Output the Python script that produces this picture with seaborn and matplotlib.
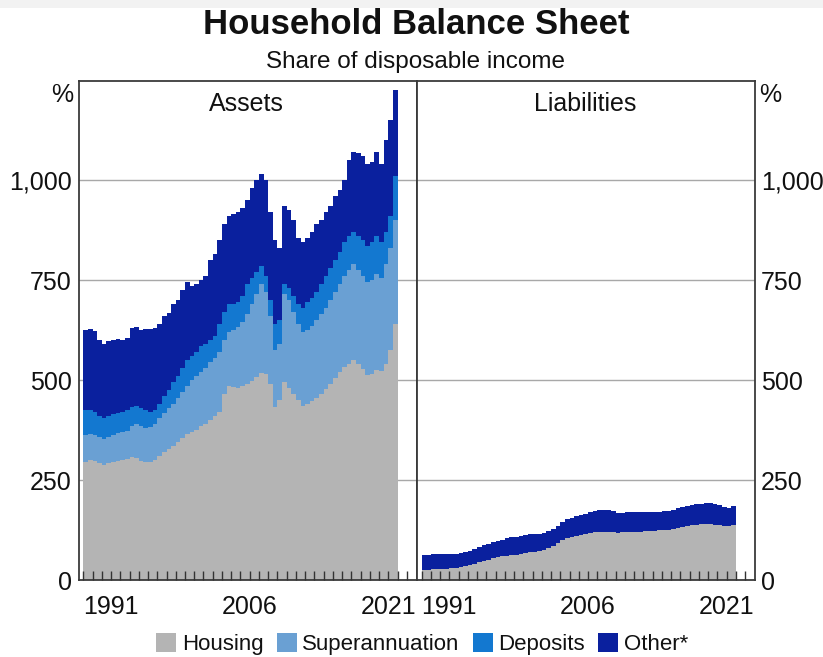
import numpy as np
import pandas as pd
import matplotlib
matplotlib.use("Agg")
import matplotlib.pyplot as plt
from matplotlib.patches import Patch, Rectangle
from matplotlib.ticker import FuncFormatter
import seaborn as sns

# Half-yearly observation periods (start of each half year)
periods = np.arange(1988.0, 2022.0, 0.5)

# Assets, cumulative levels (% of disposable income)
assets_housing = [
    295, 300, 298, 292, 288, 292, 295, 298, 300, 302,
    308, 305, 298, 295, 295, 300, 310, 320, 328, 335,
    345, 355, 365, 370, 375, 385, 390, 400, 410, 420,
    465, 485, 482, 480, 485, 490, 498, 508, 518, 515,
    490, 432, 450, 495, 480, 465, 450, 436, 440, 448,
    455, 465, 478, 490, 505, 520, 532, 540, 550, 540,
    528, 512, 515, 525, 522, 540, 575, 640,
]
assets_super_top = [
    362, 365, 362, 358, 352, 358, 362, 368, 370, 372,
    385, 390, 385, 380, 382, 390, 405, 418, 430, 440,
    455, 470, 485, 500, 510, 520, 530, 545, 555, 570,
    600, 620, 625, 632, 645, 665, 690, 715, 740, 720,
    660, 575, 590, 715, 700, 670, 640, 620, 625, 635,
    650, 665, 680, 700, 720, 740, 760, 775, 790, 775,
    760, 745, 750, 765, 755, 790, 830, 900,
]
assets_deposits_top = [
    425, 425, 420, 410, 405, 410, 415, 418, 420, 425,
    432, 435, 430, 425, 420, 425, 440, 460, 475, 495,
    510, 530, 550, 560, 570, 585, 590, 600, 610, 640,
    670, 690, 690, 695, 710, 740, 755, 770, 785, 760,
    700, 640, 650, 740, 730, 710, 690, 680, 695, 705,
    720, 740, 760, 780, 800, 820, 845, 860, 870, 862,
    850, 835, 845, 860, 845, 870, 910, 1010,
]
assets_total = [
    625, 628, 622, 600, 590, 598, 600, 602, 600, 605,
    630, 632, 625, 628, 628, 630, 640, 660, 668, 690,
    700, 725, 745, 735, 740, 750, 760, 800, 815, 850,
    890, 910, 915, 920, 930, 950, 980, 1000, 1015, 1000,
    920, 850, 830, 935, 925, 900, 855, 845, 855, 870,
    890, 900, 920, 935, 960, 975, 1000, 1050, 1070, 1068,
    1060, 1040, 1045, 1070, 1040, 1100, 1150, 1225,
]

# Liabilities, cumulative levels
liab_housing = [
    25, 26, 27, 27, 28, 28, 29, 30, 32, 35,
    38, 41, 44, 47, 50, 54, 57, 59, 61, 62,
    63, 65, 67, 69, 70, 72, 75, 80, 86, 93,
    100, 105, 108, 111, 113, 115, 117, 119, 120, 121,
    120, 119, 118, 119, 120, 121, 121, 121, 122, 123,
    123, 124, 125, 126, 128, 130, 133, 135, 137, 138,
    139, 139, 139, 138, 137, 135, 134, 137,
]
liab_total = [
    62, 63, 64, 64, 64, 65, 65, 66, 68, 70,
    73, 77, 82, 87, 91, 95, 98, 101, 104, 107,
    108, 110, 112, 114, 115, 116, 118, 122, 128, 136,
    145, 152, 156, 160, 163, 166, 169, 172, 174, 175,
    174, 172, 168, 167, 169, 170, 170, 169, 169, 170,
    170, 171, 172, 173, 176, 179, 182, 185, 188, 190,
    191, 192, 192, 190, 188, 182, 180, 186,
]

series_names = ["Housing", "Superannuation", "Deposits", "Other*"]
palette = {
    "Housing": "#b4b4b4",
    "Superannuation": "#6aa0d3",
    "Deposits": "#1378d0",
    "Other*": "#0a209e",
}
year_labels = [1991, 2006, 2021]
y_ticks = [0, 250, 500, 750, 1000]


def stacked_frame(names, levels):
    """Turn cumulative levels into a long table of stacked layer heights."""
    tops = np.vstack(levels).astype(float)
    heights = np.diff(np.vstack([np.zeros(tops.shape[1]), tops]), axis=0)
    frames = [pd.DataFrame({"period": periods + 0.25, "value": h, "series": n})
              for n, h in zip(names, heights)]
    return pd.concat(frames, ignore_index=True)


assets_df = stacked_frame(series_names,
                          [assets_housing, assets_super_top,
                           assets_deposits_top, assets_total])
liab_df = stacked_frame(["Housing", "Other*"], [liab_housing, liab_total])

sns.set_theme(style="white")
plt.rcParams["font.family"] = ["Liberation Sans", "DejaVu Sans"]
plt.rcParams["text.color"] = "#111111"
plt.rcParams["xtick.color"] = "#111111"
plt.rcParams["ytick.color"] = "#111111"
plt.rcParams["axes.labelcolor"] = "#111111"

W, H = 823, 657
fig = plt.figure(figsize=(W / 100, H / 100), dpi=100)
fig.patch.set_facecolor("white")
fig.add_artist(Rectangle((0, 1 - 8 / H), 1, 8 / H, transform=fig.transFigure,
                         facecolor="#f2f2f2", edgecolor="none"))

bottom, height = 77 / H, 499.5 / H
axL = fig.add_axes([78.7 / W, bottom, 338.3 / W, height])
axR = fig.add_axes([417 / W, bottom, 338.3 / W, height])

for ax, df, names in [(axL, assets_df, series_names),
                      (axR, liab_df, ["Housing", "Other*"])]:
    sns.histplot(data=df, x="period", weights="value", hue="series",
                 hue_order=names[::-1], palette=palette, binwidth=0.5,
                 binrange=(periods[0], periods[-1] + 0.5),
                 multiple="stack", element="step", fill=True, alpha=1,
                 linewidth=0, legend=False, ax=ax)

years = np.arange(1988, 2024)
fmt = FuncFormatter(lambda v, p: f"{v:,.0f}")
for ax in (axL, axR):
    ax.set_axisbelow(False)
    ax.set_xlim(1987.5, 2024.1)
    ax.set_ylim(0, 1250)
    ax.set_xlabel("")
    ax.set_ylabel("")
    for yv in y_ticks[1:]:
        ax.axhline(yv, color="#a8a8a8", lw=1.0, zorder=0)
    ax.set_xticks(years)
    ax.set_xticklabels([str(y) if y in year_labels else "" for y in years])
    ax.tick_params(axis="x", direction="in", length=6.5, width=1,
                   color="#333333", labelcolor="#111111", labelsize=18,
                   pad=11, bottom=True)
    ax.set_yticks(y_ticks)
    ax.yaxis.set_major_formatter(fmt)
    for s in ax.spines.values():
        s.set_visible(True)
        s.set_color("#3a3a3a")
        s.set_linewidth(1.3)

axL.tick_params(axis="y", length=0, labelsize=18, pad=5,
                labelcolor="#111111", left=False, labelleft=True)
axR.yaxis.tick_right()
axR.tick_params(axis="y", length=0, labelsize=18, pad=4, labelcolor="#111111",
                right=False, left=False, labelright=True, labelleft=False)

axL.text(0.497, 0.953, "Assets", transform=axL.transAxes,
         ha="center", va="center", fontsize=18)
axR.text(0.497, 0.953, "Liabilities", transform=axR.transAxes,
         ha="center", va="center", fontsize=18)

fig.text(62 / W, 1 - 95 / H, "%", ha="center", va="center", fontsize=18)
fig.text(770 / W, 1 - 95 / H, "%", ha="center", va="center", fontsize=18)

fig.text(0.506, 1 - 25 / H, "Household Balance Sheet", ha="center",
         va="center", fontsize=25, fontweight="bold")
fig.text(0.505, 1 - 62 / H, "Share of disposable income", ha="center",
         va="center", fontsize=17.5)

handles = [Patch(facecolor=palette[n], edgecolor="none", label=n)
           for n in series_names]
fig.legend(handles=handles, loc="center", bbox_to_anchor=(0.513, 13 / H),
           ncol=4, frameon=False, fontsize=16, handlelength=0.9,
           handleheight=0.9, handletextpad=0.25, columnspacing=0.6,
           borderaxespad=0)

fig.savefig("out.png", dpi=100)
